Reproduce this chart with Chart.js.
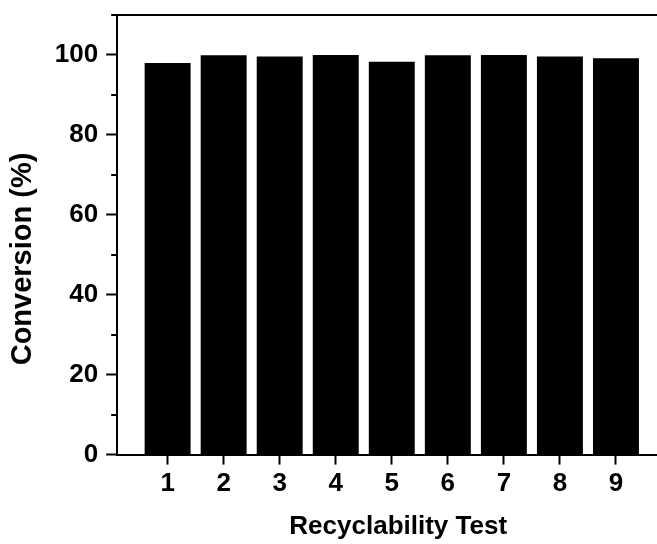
<!DOCTYPE html>
<html>
<head>
<meta charset="utf-8">
<script src="https://cdn.jsdelivr.net/npm/chart.js@4/dist/chart.umd.min.js"></script>
<style>
  html, body { margin: 0; padding: 0; background: #fff; overflow: hidden; }
  canvas { display: block; }
</style>
</head>
<body>
<canvas id="recycleChart" width="672" height="544"></canvas>
<script>
// Recyclability runs and conversion (%)
const tests = [1, 2, 3, 4, 5, 6, 7, 8, 9];
const conversion = [98.0, 99.9, 99.6, 100, 98.3, 99.9, 100, 99.6, 99.2];

// Axis ticks
const yTicks = [0, 20, 40, 60, 80, 100];
const yMinor = [10, 30, 50, 70, 90, 110];

const FONT = "'Liberation Sans', Arial, sans-serif";

// short minor ticks on the left axis (Chart.js has no minor ticks)
const minorTicks = {
    id: 'minorTicks',
    afterDraw(chart) {
        const y = chart.scales.y;
        const ctx = chart.ctx;
        ctx.save();
        ctx.strokeStyle = '#000';
        ctx.lineWidth = 2;
        yMinor.forEach(v => {
            const py = Math.round(y.getPixelForValue(v));
            ctx.beginPath();
            ctx.moveTo(y.right - 6, py);
            ctx.lineTo(y.right, py);
            ctx.stroke();
        });
        ctx.restore();
    }
};

const config = {
    type: 'bar',
    data: {
        datasets: [{
            data: tests.map((t, i) => ({ x: t, y: conversion[i] })),
            backgroundColor: '#000',
            borderWidth: 0,
            barPercentage: 0.82,
            categoryPercentage: 1
        }]
    },
    options: {
        responsive: false,
        animation: false,
        layout: { padding: { left: 0, top: 15, right: 0, bottom: 0 } },
        plugins: { legend: { display: false }, tooltip: { enabled: false } },
        scales: {
            x: {
                type: 'linear',
                offset: false,
                min: 0.1,
                max: 10,
                afterBuildTicks: scale => { scale.ticks = tests.map(v => ({ value: v })); },
                grid: { offset: false, drawOnChartArea: false, drawTicks: true, tickLength: 10, tickWidth: 2, tickColor: '#000' },
                border: { display: true, color: '#000', width: 2 },
                ticks: { color: '#000', padding: 4, maxRotation: 0, font: { family: FONT, size: 26, weight: 'bold' } },
                title: {
                    display: true,
                    text: ' Recyclability Test',
                    color: '#000',
                    padding: { top: 7, bottom: 2 },
                    font: { family: FONT, size: 26, weight: 'bold' }
                }
            },
            x2: {
                type: 'linear',
                position: 'top',
                offset: false,
                min: 0.1,
                max: 10,
                grid: { drawOnChartArea: false, drawTicks: false },
                border: { display: true, color: '#000', width: 2 },
                ticks: { display: false }
            },
            y: {
                min: 0,
                max: 110,
                afterBuildTicks: scale => { scale.ticks = yTicks.map(v => ({ value: v })); },
                grid: { drawOnChartArea: false, drawTicks: true, tickLength: 11, tickWidth: 2, tickColor: '#000' },
                border: { display: true, color: '#000', width: 2 },
                ticks: { color: '#000', padding: 8, font: { family: FONT, size: 26, weight: 'bold', lineHeight: 0.5 } },
                title: {
                    display: true,
                    text: 'Conversion (%)      ',
                    color: '#000',
                    padding: { top: 6, bottom: 6 },
                    font: { family: FONT, size: 29, weight: 'bold' }
                }
            }
        }
    },
    plugins: [minorTicks]
};

document.addEventListener('DOMContentLoaded', function() {
    const ctx = document.getElementById('recycleChart').getContext('2d');
    new Chart(ctx, config);
});
</script>
</body>
</html>
